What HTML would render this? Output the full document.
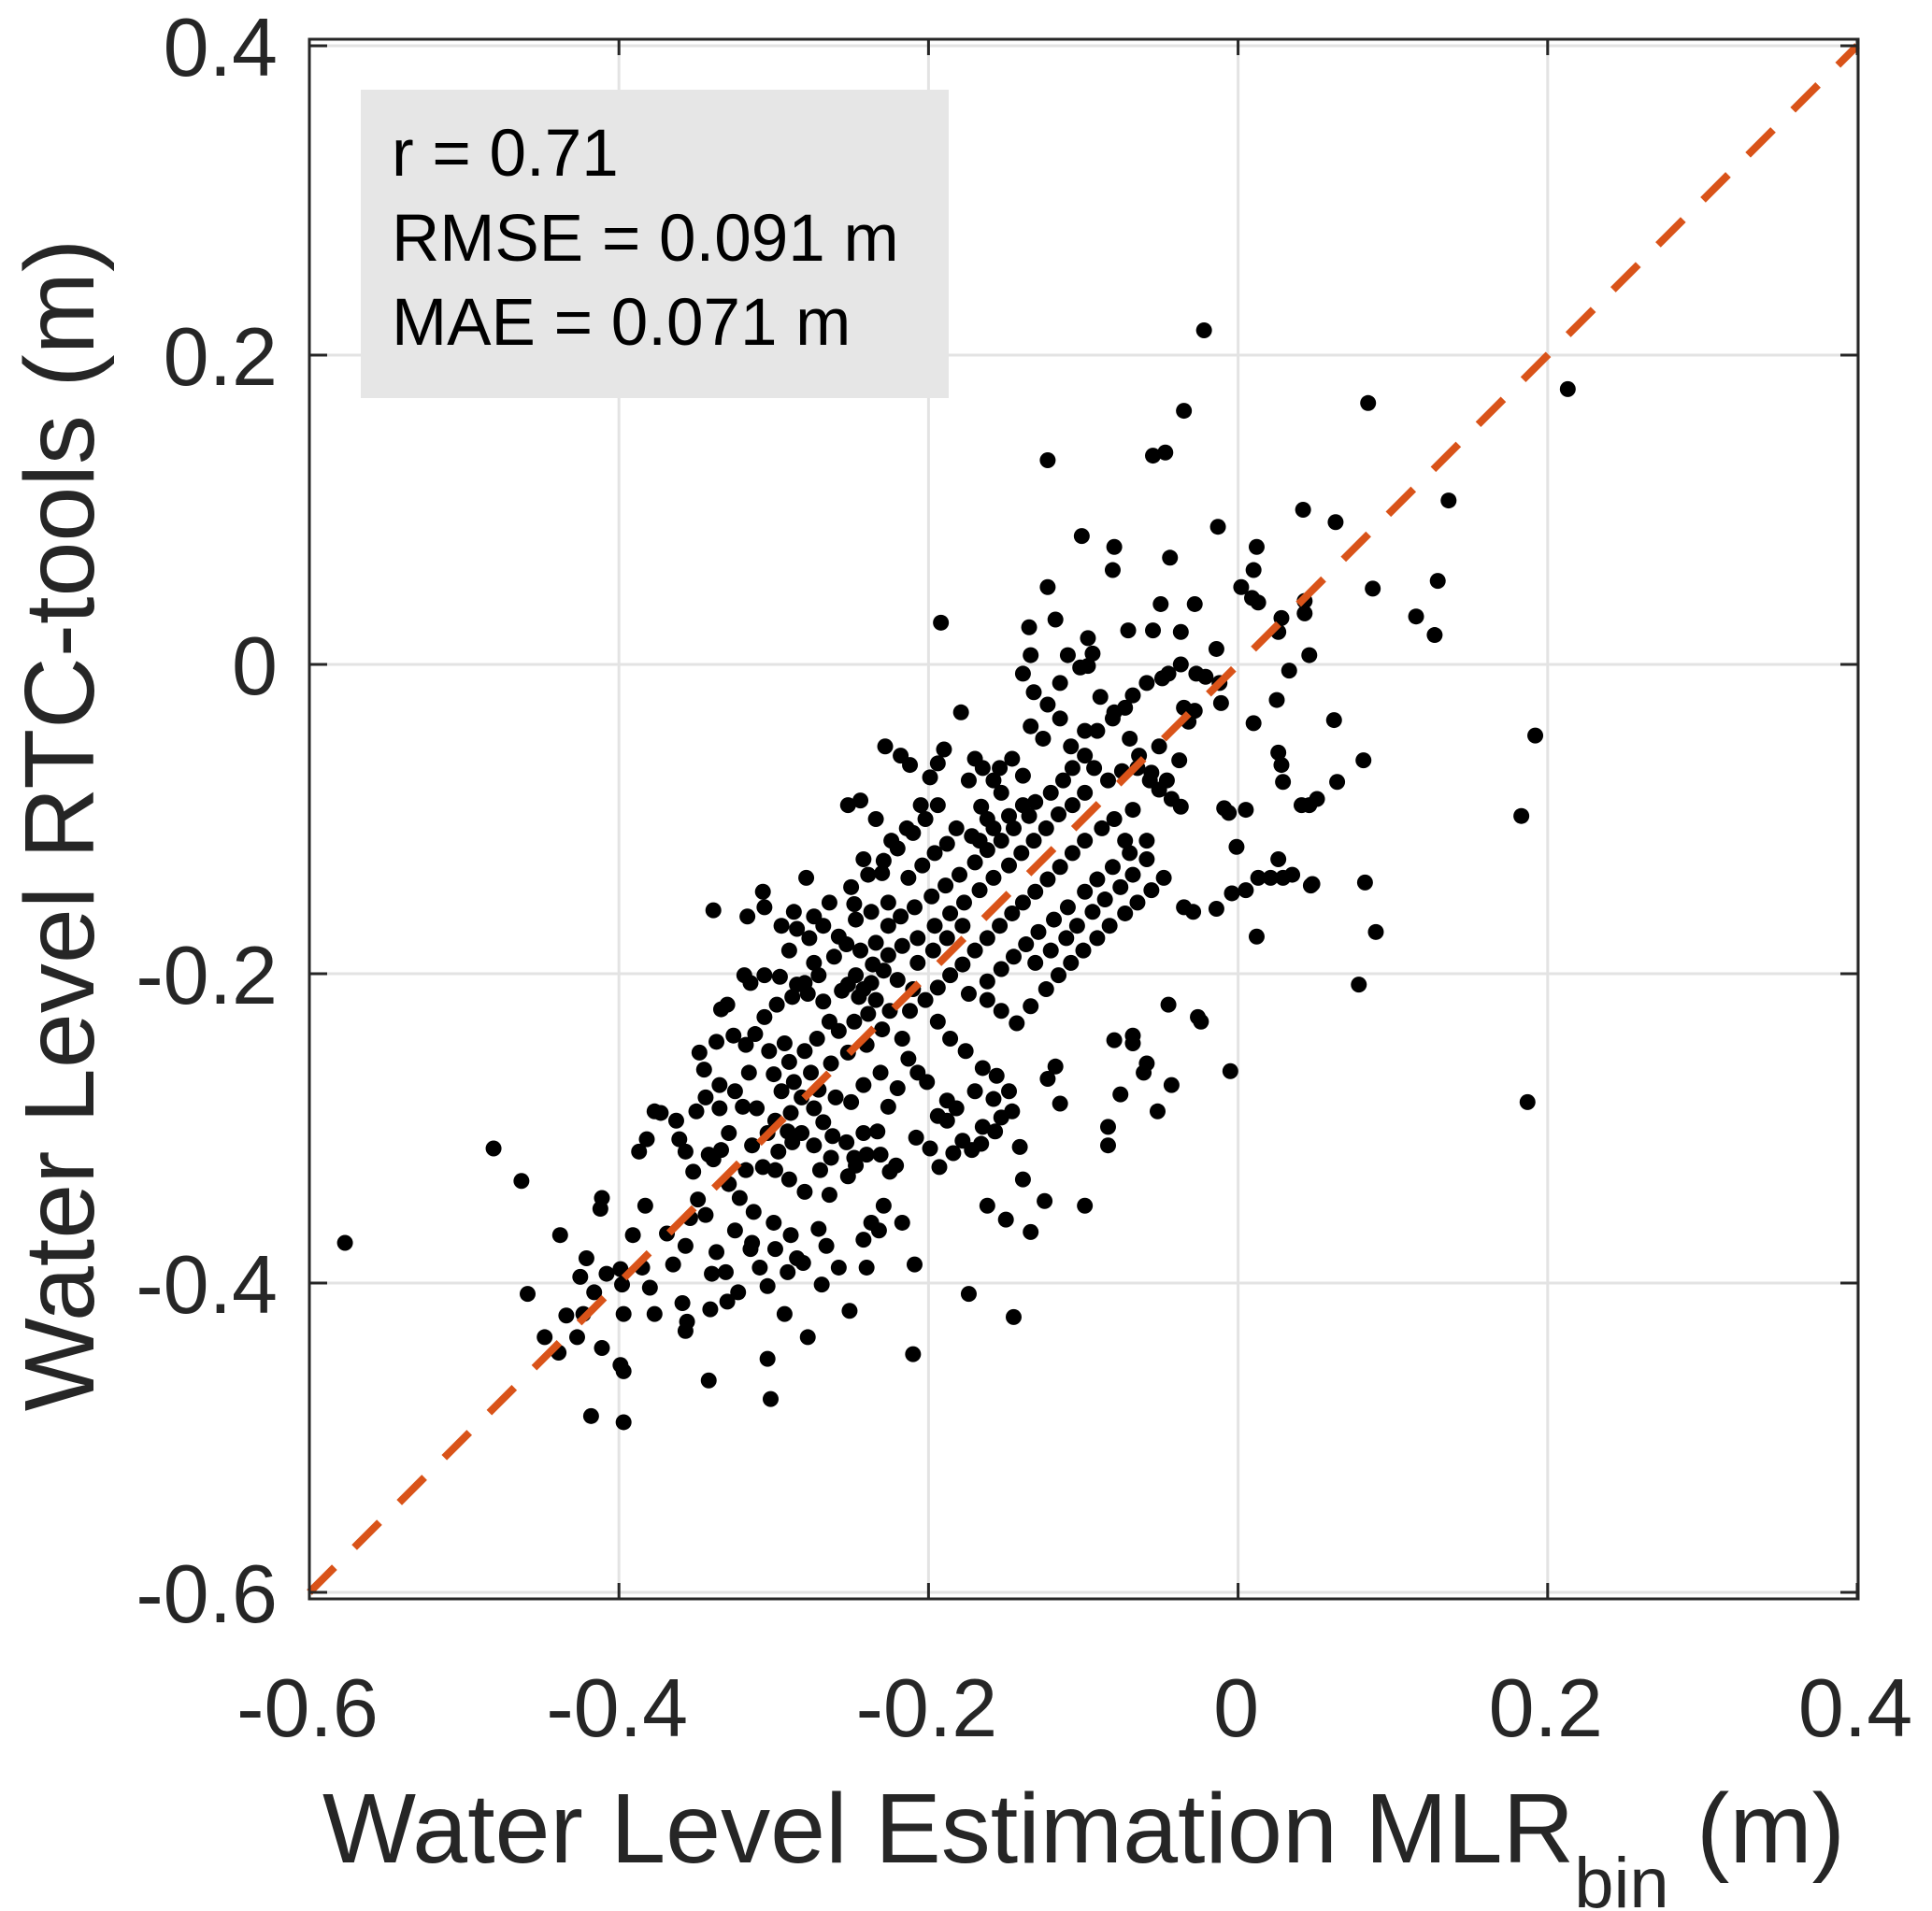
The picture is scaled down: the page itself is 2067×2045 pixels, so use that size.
<!DOCTYPE html>
<html><head><meta charset="utf-8"><style>
html,body{margin:0;padding:0;background:#fff;}
svg{display:block;font-family:"Liberation Sans",sans-serif;}
</style></head><body>
<svg id="chart" width="2067" height="2045" viewBox="0 0 2067 2045" xmlns="http://www.w3.org/2000/svg">
<rect x="0" y="0" width="2067" height="2045" fill="#fff"/>
<g id="grid"></g>
<g id="legend">
<rect x="386" y="96" width="629" height="330" fill="#e6e6e6"/>
<text x="419" y="188" font-size="71" fill="#000">r = 0.71</text>
<text x="419" y="279" font-size="71" fill="#000">RMSE = 0.091 m</text>
<text x="419" y="369" font-size="71" fill="#000">MAE = 0.071 m</text>
</g>
<g id="dots"></g>
<line id="oneone" stroke="#D95319" stroke-width="8" stroke-dasharray="38 30"/>
<g id="axes"></g>
<text transform="translate(100,883) rotate(-90)" text-anchor="middle" font-size="106" fill="#262626">Water Level RTC-tools (m)</text>
<text x="345" y="1993" font-size="106" fill="#262626">Water Level Estimation MLR<tspan font-size="76" dy="48">bin</tspan><tspan dy="-48"> (m)</tspan></text>
</svg>
<script>
const xTicks=[-0.6,-0.4,-0.2,0,0.2,0.4];
const yTicks=[-0.6,-0.4,-0.2,0,0.2,0.4];
const xTickLabels=["-0.6","-0.4","-0.2","0","0.2","0.4"];
const yTickLabels=["-0.6","-0.4","-0.2","0","0.2","0.4"];
const xs=[-0.577,-0.481,-0.463,-0.459,-0.448,-0.439,-0.438,-0.418,-0.397,-0.399,-0.397,-0.342,-0.302,-0.304,-0.293,-0.278,-0.210,-0.174,-0.145,-0.099,-0.022,-0.035,-0.123,-0.055,-0.047,0.084,0.213,0.136,0.042,0.063,-0.101,-0.080,-0.013,0.012,-0.044,-0.081,0.010,0.129,0.087,-0.123,0.002,0.009,0.013,0.115,0.127,-0.192,-0.050,-0.028,0.043,0.043,0.028,0.026,0.046,0.033,-0.014,-0.071,-0.055,-0.037,-0.135,-0.134,-0.118,-0.110,-0.097,-0.097,-0.049,-0.045,-0.037,-0.027,-0.021,-0.059,-0.028,-0.011,-0.012,0.025,0.062,0.010,0.192,0.183,0.081,0.026,0.028,0.029,0.064,0.051,0.041,0.046,-0.009,0.005,-0.006,-0.001,0.013,0.021,0.029,0.035,0.048,0.047,0.026,0.082,0.089,0.078,0.187,-0.005,0.012,-0.004,0.005,-0.014,-0.035,-0.029,-0.045,-0.026,-0.024,-0.043,-0.052,-0.061,-0.059,-0.134,-0.150,-0.162,-0.139,-0.125,-0.141,-0.115,-0.123,-0.118,-0.068,-0.068,-0.080,-0.084,-0.084,-0.076,
-0.387,-0.382,-0.377,-0.373,-0.361,-0.357,-0.383,-0.369,-0.357,-0.365,-0.380,-0.377,-0.397,-0.385,-0.391,-0.399,-0.411,-0.412,-0.408,-0.398,-0.421,-0.425,-0.416,-0.423,-0.434,-0.427,-0.411,-0.359,-0.356,-0.357,-0.337,-0.340,-0.331,-0.330,-0.354,-0.344,-0.349,-0.342,-0.334,-0.329,-0.322,-0.313,-0.300,-0.289,-0.299,-0.309,-0.315,-0.285,-0.266,-0.258,-0.269,-0.251,-0.240,-0.237,-0.229,-0.242,-0.232,-0.217,-0.209,-0.221,-0.225,-0.208,-0.199,-0.193,-0.184,-0.172,-0.166,-0.157,-0.153,-0.146,-0.158,-0.165,-0.178,-0.188,-0.194,-0.201,-0.207,-0.213,-0.217,-0.212,-0.202,-0.194,-0.186,-0.176,-0.165,-0.156,-0.148,-0.170,-0.182,-0.188,-0.323,-0.291,-0.281,-0.304,-0.271,-0.270,-0.264,-0.252,-0.247,-0.240,-0.233,-0.231,-0.253,-0.262,-0.268,-0.274,-0.282,-0.288,-0.297,-0.307,-0.314,-0.318,-0.329,-0.320,-0.325,-0.335,-0.335,-0.345,-0.348,-0.337,-0.326,-0.318,-0.330,-0.334,-0.319,-0.315,-0.306,-0.296,-0.285,-0.278,-0.268,-0.256,-0.247,-0.242,-0.234,-0.225,-0.230,-0.240,-0.252,-0.263,-0.276,-0.287,-0.295,-0.300,-0.290,-0.280,-0.272,-0.264,-0.258,-0.248,-0.239,-0.306,-0.312,-0.303,-0.293,-0.316,-0.311,-0.299,-0.289,-0.274,-0.263,-0.248,-0.242,-0.226,-0.220,-0.231,-0.242,-0.250,-0.260,-0.271,-0.282,-0.291,-0.304,-0.299,-0.290,-0.280,-0.363,-0.350,-0.344,-0.339,-0.352,-0.325,-0.314,-0.341,
-0.339,-0.317,-0.306,-0.307,-0.279,-0.250,-0.230,-0.242,-0.252,-0.244,-0.234,-0.224,-0.214,-0.205,-0.199,-0.212,-0.194,-0.218,-0.228,-0.190,-0.179,-0.174,-0.170,-0.165,-0.158,-0.154,-0.146,-0.139,-0.153,-0.166,-0.162,-0.172,-0.182,-0.188,-0.196,-0.204,-0.213,-0.226,-0.237,-0.247,-0.258,-0.268,-0.277,-0.285,-0.290,-0.274,-0.261,-0.253,-0.244,-0.234,-0.226,-0.218,-0.209,-0.198,-0.189,-0.180,-0.170,-0.162,-0.153,-0.145,-0.135,-0.131,-0.121,-0.113,-0.107,-0.099,-0.093,-0.084,-0.075,-0.065,-0.057,-0.051,-0.043,-0.037,-0.068,-0.080,-0.088,-0.099,-0.107,-0.115,-0.123,-0.131,-0.139,-0.146,-0.154,-0.162,-0.170,-0.178,-0.186,-0.194,-0.210,-0.220,-0.229,-0.237,-0.245,-0.252,-0.271,-0.280,-0.288,-0.298,-0.174,-0.162,-0.153,-0.143,-0.134,-0.124,-0.116,-0.108,-0.100,-0.091,-0.083,-0.073,-0.065,-0.056,-0.048,-0.059,-0.070,-0.081,-0.091,-0.099,-0.110,-0.119,-0.129,-0.137,-0.145,-0.153,-0.162,-0.131,-0.121,-0.111,-0.104,-0.094,-0.086,-0.076,-0.068,-0.059,-0.073,-0.178,-0.188,-0.197,-0.207,-0.217,-0.226,-0.236,-0.207,-0.196,-0.186,-0.177,-0.167,-0.158,-0.148,-0.140,-0.132,-0.124,-0.116,-0.107,-0.099,-0.091,-0.081,-0.073,-0.068,-0.115,-0.123,-0.132,-0.139,-0.134,-0.126,-0.115,-0.102,-0.094,-0.089,-0.080,-0.108,-0.099,-0.070,-0.064,-0.056,-0.046,-0.038,-0.051,-0.035,-0.032,-0.139,-0.148,-0.158,-0.167,-0.194,-0.202,-0.210,-0.220,-0.229,-0.239,-0.248,-0.264,-0.274,-0.287,-0.295];
const ys=[-0.374,-0.313,-0.334,-0.407,-0.435,-0.445,-0.369,-0.486,-0.490,-0.453,-0.457,-0.463,-0.475,-0.449,-0.420,-0.435,-0.446,-0.407,-0.422,-0.350,0.216,0.164,0.132,0.135,0.137,0.169,0.178,0.106,0.100,0.092,0.083,0.076,0.089,0.076,0.069,0.061,0.061,0.054,0.049,0.050,0.050,0.043,0.040,0.031,0.019,0.027,0.039,0.039,0.041,0.033,0.030,0.021,0.006,-0.004,0.010,0.022,0.022,0.021,0.024,0.006,0.029,0.006,0.017,-0.001,-0.009,-0.006,0,-0.006,-0.008,-0.012,-0.030,-0.025,-0.012,-0.023,-0.036,-0.038,-0.046,-0.098,-0.062,-0.057,-0.065,-0.076,-0.076,-0.087,-0.091,-0.091,-0.093,-0.094,-0.096,-0.118,-0.138,-0.138,-0.138,-0.136,-0.142,-0.143,-0.126,-0.141,-0.173,-0.207,-0.283,-0.263,-0.176,-0.148,-0.146,-0.158,-0.157,-0.160,-0.220,-0.228,-0.231,-0.272,-0.289,-0.264,-0.258,-0.367,-0.359,-0.350,-0.333,-0.347,-0.312,-0.284,-0.268,-0.260,-0.240,-0.245,-0.243,-0.299,-0.311,-0.278,
-0.315,-0.307,-0.289,-0.290,-0.307,-0.315,-0.350,-0.368,-0.376,-0.388,-0.403,-0.420,-0.420,-0.390,-0.369,-0.391,-0.345,-0.352,-0.394,-0.401,-0.384,-0.396,-0.406,-0.420,-0.421,-0.435,-0.442,-0.413,-0.425,-0.431,-0.380,-0.394,-0.393,-0.412,-0.358,-0.356,-0.346,-0.317,-0.314,-0.336,-0.345,-0.354,-0.361,-0.369,-0.378,-0.390,-0.378,-0.384,-0.376,-0.390,-0.401,-0.418,-0.390,-0.361,-0.350,-0.372,-0.366,-0.361,-0.388,-0.324,-0.328,-0.306,-0.313,-0.325,-0.316,-0.314,-0.310,-0.302,-0.293,-0.289,-0.281,-0.299,-0.308,-0.295,-0.292,-0.270,-0.264,-0.255,-0.242,-0.224,-0.217,-0.231,-0.242,-0.250,-0.261,-0.266,-0.276,-0.276,-0.287,-0.282,-0.406,-0.393,-0.387,-0.402,-0.365,-0.327,-0.343,-0.331,-0.324,-0.317,-0.302,-0.317,-0.309,-0.305,-0.296,-0.287,-0.303,-0.309,-0.315,-0.325,-0.311,-0.327,-0.303,-0.286,-0.276,-0.287,-0.272,-0.262,-0.251,-0.244,-0.240,-0.246,-0.220,-0.223,-0.201,-0.206,-0.201,-0.202,-0.207,-0.213,-0.218,-0.211,-0.201,-0.210,-0.217,-0.224,-0.236,-0.246,-0.251,-0.258,-0.264,-0.270,-0.276,-0.265,-0.257,-0.250,-0.242,-0.231,-0.237,-0.231,-0.226,-0.228,-0.239,-0.250,-0.245,-0.264,-0.287,-0.295,-0.290,-0.311,-0.319,-0.319,-0.303,-0.286,-0.274,-0.264,-0.272,-0.283,-0.280,-0.275,-0.280,-0.302,-0.303,-0.327,-0.333,-0.341,-0.295,-0.289,-0.280,-0.320,-0.328,-0.366,-0.374,-0.417,
-0.159,-0.163,-0.157,-0.147,-0.138,-0.144,-0.135,-0.126,-0.091,-0.088,-0.100,-0.114,-0.106,-0.091,-0.073,-0.065,-0.064,-0.059,-0.053,-0.055,-0.031,-0.075,-0.061,-0.067,-0.075,-0.067,-0.061,-0.072,-0.083,-0.092,-0.100,-0.111,-0.106,-0.116,-0.122,-0.130,-0.138,-0.154,-0.160,-0.165,-0.176,-0.169,-0.177,-0.171,-0.185,-0.193,-0.189,-0.181,-0.185,-0.180,-0.169,-0.163,-0.157,-0.150,-0.143,-0.136,-0.128,-0.120,-0.114,-0.106,-0.098,-0.089,-0.083,-0.075,-0.067,-0.059,-0.067,-0.075,-0.069,-0.067,-0.075,-0.081,-0.087,-0.092,-0.094,-0.100,-0.106,-0.114,-0.122,-0.131,-0.139,-0.147,-0.154,-0.161,-0.169,-0.177,-0.185,-0.194,-0.201,-0.209,-0.210,-0.204,-0.198,-0.206,-0.215,-0.207,-0.201,-0.206,-0.215,-0.220,-0.213,-0.217,-0.224,-0.232,-0.221,-0.210,-0.201,-0.193,-0.185,-0.177,-0.169,-0.161,-0.154,-0.146,-0.138,-0.126,-0.122,-0.131,-0.139,-0.147,-0.157,-0.165,-0.173,-0.181,-0.189,-0.197,-0.205,-0.193,-0.185,-0.177,-0.169,-0.160,-0.152,-0.144,-0.136,-0.114,-0.114,-0.169,-0.177,-0.185,-0.193,-0.182,-0.188,-0.194,-0.177,-0.169,-0.161,-0.154,-0.146,-0.138,-0.130,-0.122,-0.114,-0.106,-0.097,-0.091,-0.083,-0.043,-0.035,-0.028,-0.020,-0.035,-0.026,-0.018,-0.006,-0.040,-0.048,-0.012,-0.002,0.007,-0.021,-0.031,-0.053,-0.043,-0.048,-0.059,-0.070,-0.075,-0.062,-0.053,-0.028,-0.037,-0.091,-0.098,-0.106,-0.114,-0.091,-0.100,-0.109,-0.119,-0.127,-0.136,-0.155,-0.154,-0.163,-0.160,-0.169];

const X0=331,X1=1987,Y0=1704,Y1=49;
function sx(v){return X0+(v+0.6)/1.0*(X1-X0);}
function sy(v){return Y0-(v+0.6)/1.0*(Y0-Y1);}
const NS="http://www.w3.org/2000/svg";
function mk(tag,attrs,parent){const e=document.createElementNS(NS,tag);for(const k in attrs)e.setAttribute(k,attrs[k]);parent.appendChild(e);return e;}
const grid=document.getElementById('grid'),axes=document.getElementById('axes'),dots=document.getElementById('dots');
xTicks.forEach((t,i)=>{
  const g=mk('line',{x1:sx(t),x2:sx(t),y1:42,y2:1711,stroke:'#e3e3e3','stroke-width':3},grid);
  
  
  const tb=mk('line',{x1:sx(t),x2:sx(t),y1:1711,y2:1694,stroke:'#262626','stroke-width':3},axes);
  
  
  const tt=mk('line',{x1:sx(t),x2:sx(t),y1:42,y2:59,stroke:'#262626','stroke-width':3},axes);
  
  
  const l=mk('text',{x:sx(t)-2,y:1858,'text-anchor':'middle','font-size':88,fill:'#262626'},axes);
  l.textContent=xTickLabels[i];
  
  
});
yTicks.forEach((t,i)=>{
  const g=mk('line',{x1:331,x2:1988,y1:sy(t),y2:sy(t),stroke:'#e3e3e3','stroke-width':3},grid);
  
  
  const tl=mk('line',{x1:331,x2:350,y1:sy(t),y2:sy(t),stroke:'#262626','stroke-width':3},axes);
  
  
  const tr=mk('line',{x1:1969,x2:1988,y1:sy(t),y2:sy(t),stroke:'#262626','stroke-width':3},axes);
  
  
  const l=mk('text',{x:297,y:sy(t)+32,'text-anchor':'end','font-size':88,fill:'#262626'},axes);
  l.textContent=yTickLabels[i];
  
  
});
const box=mk('rect',{x:331,y:42,width:1657,height:1669,fill:'none',stroke:'#262626','stroke-width':3},axes);


for(let i=0;i<xs.length&&i<ys.length;i++){
  const c=mk('circle',{cx:sx(xs[i]),cy:sy(ys[i]),r:8.5,fill:'#000'},dots);
  
  
}
const ln=document.getElementById('oneone');
ln.setAttribute('x1',sx(-0.6));ln.setAttribute('y1',sy(-0.6));
ln.setAttribute('x2',sx(0.4));ln.setAttribute('y2',sy(0.4));
</script>
</body></html>
